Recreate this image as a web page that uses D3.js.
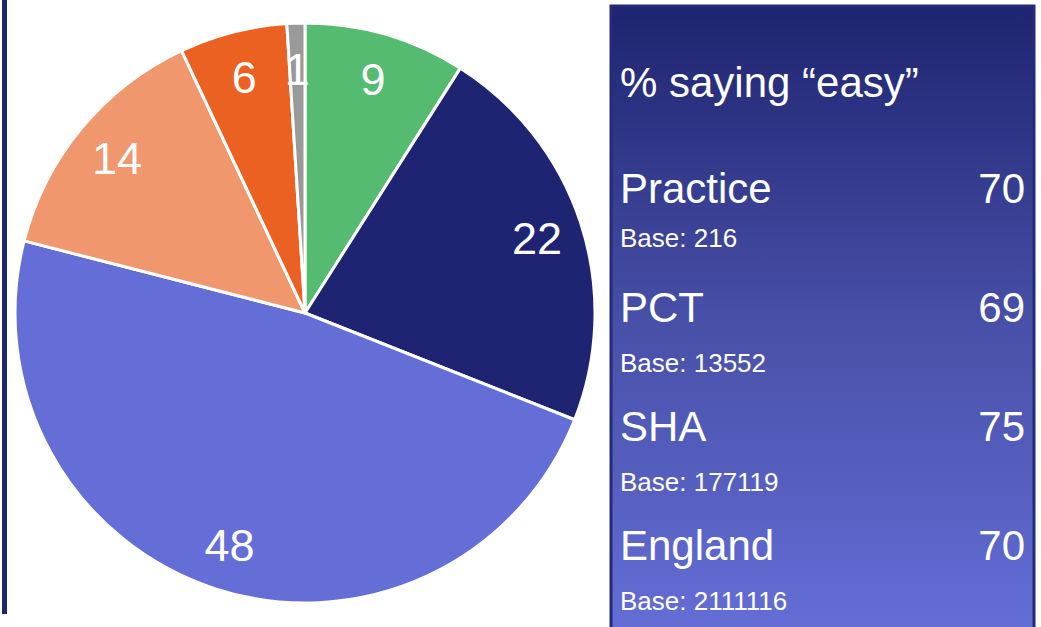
<!DOCTYPE html>
<html>

<head>
  <title>% saying easy</title>

  <style>
    body,
    html {
      margin: 0;
      padding: 0;
      background: #fff;
    }

    text {
      font-family: Arial, "Liberation Sans", sans-serif;
      fill: #fff;
    }
  </style>
</head>

<body>

  <svg id="svg" width="1041" height="627"></svg>

  <script src="https://d3js.org/d3.v7.min.js"></script>

  <script>
    // pie slices, clockwise from 12 o'clock
    const sliceValues = [9, 22, 48, 14, 6, 1]
    const sliceColors = ['#55bb70', '#1e2372', '#646ed6', '#f0976d', '#ea6121', '#999999']

    // side panel
    const title = '% saying \u201ceasy\u201d'
    const groups = ['Practice', 'PCT', 'SHA', 'England']
    const easyPct = [70, 69, 75, 70]
    const bases = [216, 13552, 177119, 2111116]

    const svg = d3.select('#svg')

    // left rule
    svg.append('rect')
      .attr('x', 2).attr('y', 0)
      .attr('width', 5).attr('height', 614)
      .attr('fill', '#1e2372')

    // pie
    const cx = 305, cy = 313, radius = 290, labelRadius = 244

    const pie = d3.pie().sort(null).value(d => d)
    const arc = d3.arc().innerRadius(0).outerRadius(radius)
    const labelArc = d3.arc().innerRadius(labelRadius).outerRadius(labelRadius)

    const g = svg.append('g').attr('transform', `translate(${cx},${cy})`)
    const arcs = pie(sliceValues)

    g.selectAll('path')
      .data(arcs)
      .join('path')
      .attr('d', arc)
      .attr('fill', (d, i) => sliceColors[i])
      .attr('stroke', '#fff')
      .attr('stroke-width', 3)
      .attr('stroke-linejoin', 'round')

    g.selectAll('text')
      .data(arcs)
      .join('text')
      .attr('transform', d => `translate(${labelArc.centroid(d)})`)
      .attr('text-anchor', 'middle')
      .attr('dy', '0.36em')
      .attr('font-size', 45)
      .text(d => d.data)

    // panel
    const defs = svg.append('defs')
    const grad = defs.append('linearGradient')
      .attr('id', 'panelGrad')
      .attr('x1', 0).attr('y1', 0).attr('x2', 0).attr('y2', 1)
    grad.append('stop').attr('offset', '0%').attr('stop-color', '#1f2470')
    grad.append('stop').attr('offset', '50%').attr('stop-color', '#4850a8')
    grad.append('stop').attr('offset', '100%').attr('stop-color', '#656fd8')

    const px = 611, py = 6, pw = 423
    svg.append('rect')
      .attr('x', px).attr('y', py)
      .attr('width', pw).attr('height', 640)
      .attr('fill', 'url(#panelGrad)')
      .attr('stroke', '#252a7c')
      .attr('stroke-width', 3)

    svg.append('text')
      .attr('x', 620).attr('y', 97)
      .attr('font-size', 42)
      .text(title)

    const rowY = d3.scaleLinear().domain([0, groups.length - 1]).range([203, 560])

    const rows = svg.append('g').selectAll('g')
      .data(groups)
      .join('g')
      .attr('transform', (d, i) => `translate(0,${rowY(i)})`)

    rows.append('text')
      .attr('x', 620)
      .attr('font-size', 42)
      .text(d => d)

    rows.append('text')
      .attr('x', 1025)
      .attr('text-anchor', 'end')
      .attr('font-size', 42)
      .text((d, i) => easyPct[i])

    rows.append('text')
      .attr('x', 620)
      .attr('y', (d, i) => i === 0 ? 44 : 50)
      .attr('font-size', 26)
      .text((d, i) => 'Base: ' + bases[i])
  </script>

</body>

</html>
